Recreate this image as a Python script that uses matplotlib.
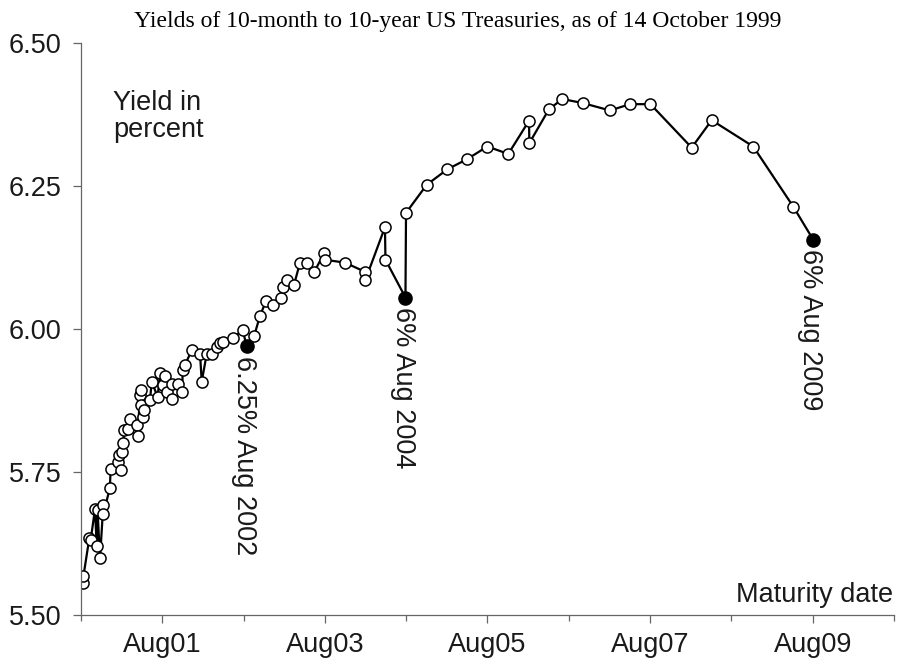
import numpy as np
import matplotlib.pyplot as plt

# maturity as decimal year, yield in percent
maturity = [
    2000.648, 2000.650, 2000.722, 2000.739, 2000.792, 2000.813, 2000.823, 2000.854,
    2000.894, 2000.896, 2000.975, 2000.985, 2001.079, 2001.090, 2001.112, 2001.128,
    2001.140, 2001.150, 2001.202, 2001.223, 2001.305, 2001.317, 2001.346, 2001.352,
    2001.358, 2001.386, 2001.399, 2001.469, 2001.490, 2001.563, 2001.592, 2001.632,
    2001.653, 2001.674, 2001.736, 2001.743, 2001.817, 2001.866, 2001.870, 2001.899,
    2001.982, 2002.084, 2002.105, 2002.166, 2002.235, 2002.289, 2002.330, 2002.367,
    2002.486, 2002.609, 2002.658, 2002.748, 2002.822, 2002.896, 2002.985, 2003.076,
    2003.108, 2003.157, 2003.240, 2003.314, 2003.404, 2003.486, 2003.609, 2003.621,
    2003.867, 2004.113, 2004.119, 2004.359, 2004.365, 2004.611, 2004.618, 2004.872,
    2005.125, 2005.371, 2005.618, 2005.876, 2006.131, 2006.135, 2006.376, 2006.540,
    2006.791, 2007.127, 2007.373, 2007.625, 2008.132, 2008.378, 2008.889, 2009.381,
    2009.627,
]
yield_pct = [
    5.556, 5.568, 5.634, 5.631, 5.685, 5.621, 5.684, 5.599,
    5.692, 5.677, 5.722, 5.756, 5.768, 5.779, 5.753, 5.785,
    5.800, 5.823, 5.826, 5.842, 5.832, 5.813, 5.885, 5.893,
    5.867, 5.846, 5.858, 5.876, 5.908, 5.881, 5.923, 5.902,
    5.917, 5.890, 5.878, 5.904, 5.904, 5.889, 5.928, 5.937,
    5.963, 5.957, 5.908, 5.956, 5.956, 5.969, 5.975, 5.978,
    5.984, 5.998, 5.970, 5.987, 6.023, 6.049, 6.042, 6.055,
    6.074, 6.086, 6.077, 6.116, 6.115, 6.099, 6.132, 6.121,
    6.116, 6.100, 6.086, 6.178, 6.121, 6.055, 6.203, 6.252,
    6.279, 6.297, 6.319, 6.306, 6.364, 6.325, 6.384, 6.402,
    6.395, 6.382, 6.393, 6.393, 6.317, 6.365, 6.319, 6.214,
    6.156,
]

# benchmark issues shown as filled dots
bench_maturity = [2002.658, 2004.611, 2009.627]
bench_yield = [5.970, 6.055, 6.156]
bench_label = ["6.25% Aug 2002", "6% Aug 2004", "6% Aug 2009"]

tick_years = [2001, 2003, 2005, 2007, 2009]
tick_labels = ["Aug01", "Aug03", "Aug05", "Aug07", "Aug09"]
y_ticks = [5.50, 5.75, 6.00, 6.25, 6.50]

AUG = 0.62  # mid August as fraction of a year
FS = 19.5

plt.rcParams['font.family'] = ['Liberation Sans', 'DejaVu Sans']

fig = plt.figure(figsize=(8.98, 6.61), dpi=100)
ax = fig.add_axes([0.0902, 0.0696, 0.9053, 0.8654])

ax.plot(maturity, yield_pct, color="black", lw=1.6, marker="o", ms=8,
        mfc="white", mec="black", mew=1.1, zorder=2)
ax.plot(bench_maturity, bench_yield, ls="none", marker="o", ms=9.5,
        mfc="black", mec="black", zorder=3)

for x, y, lab in zip(bench_maturity, bench_yield, bench_label):
    ax.annotate(lab, (x, y), xytext=(-2, -7), textcoords="offset points",
                rotation=270, ha="center", va="top", fontsize=FS, color="#1a1a1a")

ax.set_xlim(2000 + AUG, 2010 + AUG)
ax.set_ylim(5.5, 6.5)
ax.set_xticks([y + AUG for y in tick_years])
ax.set_xticklabels(tick_labels)
ax.set_xticks([y + AUG for y in range(2000, 2011, 2)], minor=True)
ax.set_yticks(y_ticks)
ax.set_yticklabels(["%.2f" % v for v in y_ticks])

for side in ["top", "right"]:
    ax.spines[side].set_visible(False)
for side in ["left", "bottom"]:
    ax.spines[side].set_color("#666666")
    ax.spines[side].set_linewidth(0.9)
ax.tick_params(axis="both", which="major", labelsize=FS, length=6, width=0.9,
               color="#666666", labelcolor="#1a1a1a", pad=6)
ax.tick_params(axis="x", which="minor", length=4, width=0.9, color="#666666")
ax.tick_params(axis="y", pad=8)

ax.text(0.039, 0.918, "Yield in\npercent", transform=ax.transAxes,
        ha="left", va="top", fontsize=FS, linespacing=1.05, color="#1a1a1a")
ax.text(0.999, 0.012, "Maturity date", transform=ax.transAxes,
        ha="right", va="bottom", fontsize=FS, color="#1a1a1a")

fig.text(0.51, 1 - 22 / 661, "Yields of 10-month to 10-year US Treasuries, as of 14 October 1999",
         ha="center", va="center", fontsize=17, family=["Liberation Serif", "DejaVu Serif"])

fig.savefig("out.png", dpi=100)
